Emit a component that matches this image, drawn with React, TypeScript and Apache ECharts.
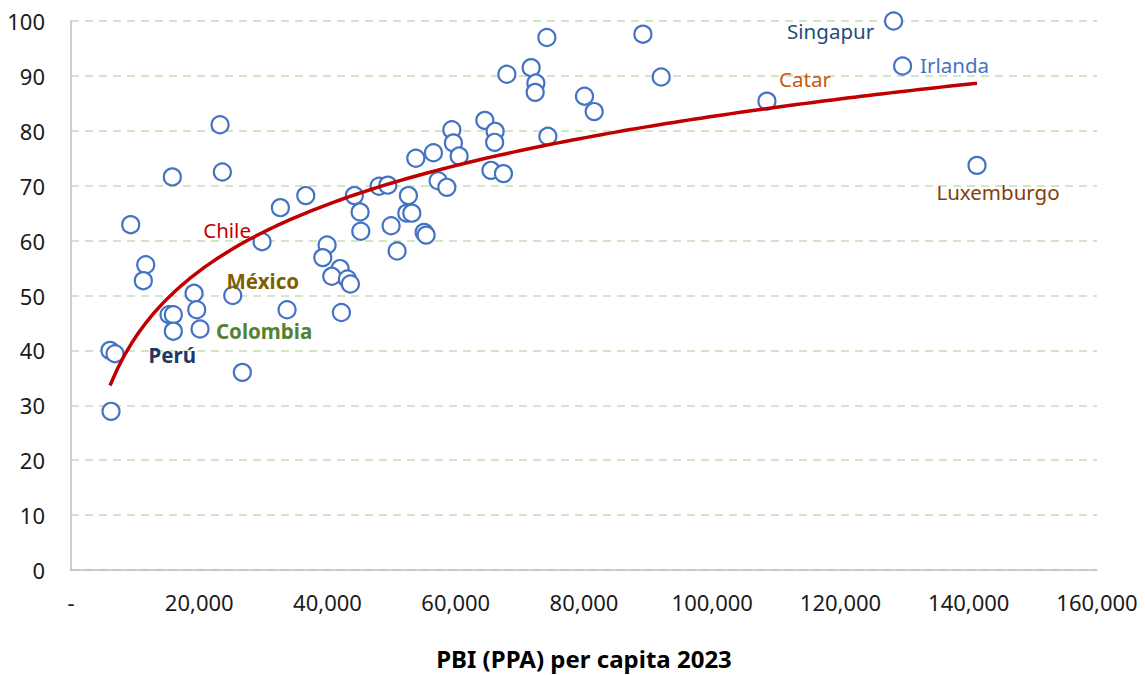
import React, { useEffect, useRef } from "react";
import * as echarts from "echarts";

// PBI (PPA) per capita 2023 (x) and index value (y)
const gdpPerCapita = [
  6084, 6864, 6240, 9313, 11653, 11279, 15803, 23244, 23603, 15288,
  15959, 15959, 19188, 19609, 20124, 25225, 26723, 29796, 32651, 33696,
  36613, 39936, 39265, 41964, 40669, 43103, 43571, 42167, 44195, 45084,
  45193, 48048, 49405, 49920, 50856, 52619, 52369, 53149, 55068, 55380,
  53773, 56519, 57252, 58609, 59389, 59639, 60528, 64537, 66144, 66066,
  65489, 67439, 67969, 71760, 72493, 72384, 74209, 74365, 80075, 81588,
  89185, 92040, 108529, 128279, 129683, 141289,
];
const indexValues = [
  40.0, 39.4, 28.9, 62.9, 55.6, 52.7, 71.6, 81.1, 72.5, 46.5,
  46.5, 43.5, 50.4, 47.4, 43.9, 50.0, 36.0, 59.8, 66.0, 47.4,
  68.2, 59.2, 56.9, 54.9, 53.5, 53.0, 52.1, 46.9, 68.2, 65.2,
  61.7, 69.9, 70.1, 62.7, 58.1, 68.2, 65.0, 65.0, 61.5, 61.0,
  75.0, 76.0, 70.9, 69.7, 80.2, 77.8, 75.4, 81.9, 79.9, 77.9,
  72.8, 72.2, 90.3, 91.5, 88.7, 87.0, 97.0, 79.0, 86.3, 83.5,
  97.6, 89.8, 85.4, 100.0, 91.8, 73.7,
];
// Labelled countries: name and the index of their point in the arrays above
const labelNames = ["Singapur", "Irlanda", "Catar", "Luxemburgo", "Chile", "México", "Colombia", "Perú"];
const labelPointIndex = [63, 64, 62, 65, 17, 15, 14, 11];

const xTickMin = 0;
const xTickMax = 160000;
const xTickStep = 20000;
const yTickMin = 0;
const yTickMax = 100;
const yTickStep = 10;

// label styles (kept apart from data)
const labelStyles: Record<string, { color: string; bold: boolean; offset: [number, number] }> = {
  Singapur: { color: "#1F4E79", bold: false, offset: [-63, 10] },
  Irlanda: { color: "#4472C4", bold: false, offset: [52, -1] },
  Catar: { color: "#C55A11", bold: false, offset: [38, -22] },
  Luxemburgo: { color: "#843C0C", bold: false, offset: [21, 27] },
  Chile: { color: "#C00000", bold: false, offset: [-35, -12] },
  "México": { color: "#7F6000", bold: true, offset: [30, -15] },
  Colombia: { color: "#548235", bold: true, offset: [64, 2] },
  "Perú": { color: "#203864", bold: true, offset: [-1, 24] },
};

const FONT = "'Noto Sans', 'Open Sans', sans-serif";

function logFit(xs: number[], ys: number[]) {
  const n = xs.length;
  let sx = 0, sy = 0, sxx = 0, sxy = 0;
  for (let i = 0; i < n; i++) {
    const lx = Math.log(xs[i]);
    sx += lx; sy += ys[i]; sxx += lx * lx; sxy += lx * ys[i];
  }
  const a = (n * sxy - sx * sy) / (n * sxx - sx * sx);
  const b = (sy - a * sx) / n;
  return { a, b };
}

export default function App() {
  const ref = useRef<HTMLDivElement>(null);
  useEffect(() => {
    if (!ref.current) return;
    const chart = echarts.init(ref.current, undefined, { renderer: "svg" });

    const points = gdpPerCapita.map((x, i) => {
      const li = labelPointIndex.indexOf(i);
      const item: any = { value: [x, indexValues[i]] };
      if (li >= 0) {
        const name = labelNames[li];
        const st = labelStyles[name];
        item.label = {
          show: true,
          position: "inside",
          formatter: name,
          color: st.color,
          fontWeight: st.bold ? "bold" : "normal",
          fontSize: 20.5,
          fontFamily: FONT,
          offset: st.offset,
        };
      }
      return item;
    });

    const { a, b } = logFit(gdpPerCapita, indexValues);
    const xMin = Math.min(...gdpPerCapita);
    const xMax = Math.max(...gdpPerCapita);
    const trend: number[][] = [];
    const steps = 120;
    for (let k = 0; k <= steps; k++) {
      const x = xMin + ((xMax - xMin) * k) / steps;
      trend.push([x, a * Math.log(x) + b]);
    }

    chart.setOption({
      animation: false,
      grid: { left: 71, right: 48, top: 21, bottom: 103, containLabel: false },
      xAxis: {
        type: "value",
        min: xTickMin,
        max: xTickMax,
        interval: xTickStep,
        name: "PBI (PPA) per capita 2023",
        nameLocation: "middle",
        nameGap: 76,
        nameTextStyle: { fontFamily: FONT, fontSize: 24, fontWeight: "bold", color: "#000" },
        axisLine: { show: true, lineStyle: { color: "#BFBFBF", width: 1.5 } },
        axisTick: { show: false },
        splitLine: { show: false },
        axisLabel: {
          margin: 21,
          fontFamily: FONT,
          fontSize: 22,
          color: "#1a1a1a",
          formatter: (v: number) => (v === 0 ? "-" : v.toLocaleString("en-US")),
        },
      },
      yAxis: {
        type: "value",
        min: yTickMin,
        max: yTickMax,
        interval: yTickStep,
        axisLine: { show: true, lineStyle: { color: "#BFBFBF", width: 1.5 } },
        axisTick: { show: false },
        splitLine: { show: true, lineStyle: { color: "#C5E0B4", type: [8, 6], width: 1.5 } },
        axisLabel: { margin: 26, fontFamily: FONT, fontSize: 22, color: "#1a1a1a" },
      },
      series: [
        {
          type: "line",
          data: trend,
          showSymbol: false,
          symbol: "none",
          smooth: false,
          lineStyle: { color: "#C00000", width: 3.5 },
          z: 3,
          silent: true,
        },
        {
          type: "scatter",
          data: points,
          symbol: "circle",
          symbolSize: 17,
          itemStyle: { color: "#FFFFFF", borderColor: "#4472C4", borderWidth: 2.2, opacity: 1 },
          z: 2,
        },
      ],
    });
    return () => chart.dispose();
  }, []);
  return (
    <div
      ref={ref}
      style={{ position: "fixed", left: 0, top: 0, width: 1145, height: 675, background: "#fff" }}
    />
  );
}
